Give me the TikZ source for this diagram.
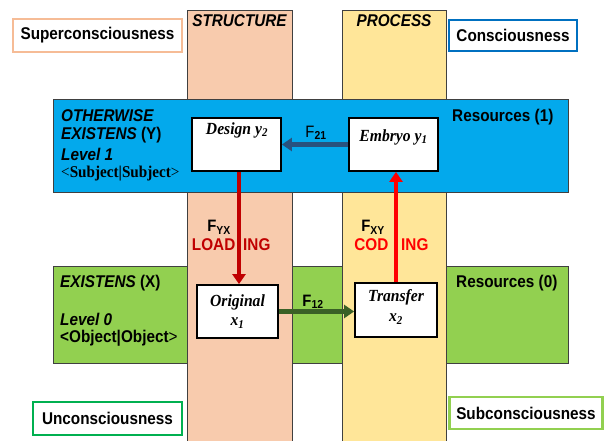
\documentclass[tikz,border=0pt]{standalone}
\usepackage{fontspec}
\setmainfont{Liberation Serif}[FakeStretch=0.92]
\setsansfont{Liberation Sans}[FakeStretch=0.9]
\usetikzlibrary{arrows.meta}

\definecolor{peach}{HTML}{F8CBAD}
\definecolor{sand}{HTML}{FFE699}
\definecolor{skyband}{HTML}{03A9EC}
\definecolor{grassband}{HTML}{92D050}
\definecolor{edgegray}{HTML}{404040}
\definecolor{superedge}{HTML}{F6BC96}
\definecolor{consedge}{HTML}{0070C0}
\definecolor{unconsedge}{HTML}{00B050}
\definecolor{subconsedge}{HTML}{92D050}
\definecolor{linkblue}{HTML}{28527E}
\definecolor{linkgreen}{HTML}{3A6126}
\definecolor{loadred}{HTML}{C00000}
\definecolor{codred}{HTML}{FF0000}

\tikzset{
  bandedge/.style={draw=edgegray, line width=1pt},
  statebox/.style={draw=black, fill=white, line width=1.8pt, inner sep=0pt},
  tagbox/.style={fill=white, line width=2.6pt, inner sep=0pt,
    font=\sffamily\bfseries\fontsize{17}{20}\selectfont},
  sanslabel/.style={inner sep=0pt, anchor=west,
    font=\sffamily\bfseries\fontsize{17}{20}\selectfont},
  boxtext/.style={inner sep=0pt, font=\bfseries\itshape\fontsize{17}{20}\selectfont},
  flowlabel/.style={inner sep=0pt, font=\sffamily\fontsize{16.5}{20}\selectfont},
  flowword/.style={inner sep=0pt, text height=12pt, text depth=0pt,
    font=\sffamily\bfseries\fontsize{17}{20}\selectfont},
  flowarrow/.style={line width=4.4pt, -{Triangle[width=13pt,length=10pt]}},
}

\begin{document}
\begin{tikzpicture}[x=1pt,y=-1pt]
\useasboundingbox (0,0) rectangle (605,441);

% level 0 band (behind the columns)
\filldraw[bandedge, fill=grassband] (53,266) rectangle (568,363);

% structure and process columns, open at the bottom
\fill[peach] (187,11) rectangle (292,441);
\draw[bandedge] (187,441) -- (187,11) -- (292,11) -- (292,441);
\fill[sand] (342,11) rectangle (446,441);
\draw[bandedge] (342,441) -- (342,11) -- (446,11) -- (446,441);
\node[inner sep=0pt, font=\sffamily\bfseries\itshape\fontsize{17}{20}\selectfont]
  (structure) at (239.5,21) {STRUCTURE};
\node[inner sep=0pt, font=\sffamily\bfseries\itshape\fontsize{17}{20}\selectfont]
  (process) at (394,21) {PROCESS};

% level 1 band (in front of the columns)
\filldraw[bandedge, fill=skyband] (53,100) rectangle (568,192);

% corner tags
\node[tagbox, draw=superedge, minimum width=169pt, minimum height=33pt]
  (supercons) at (97.5,35.5) {Superconsciousness};
\node[tagbox, draw=consedge, minimum width=128pt, minimum height=31pt]
  (cons) at (513,35.5) {Consciousness};
\node[tagbox, draw=unconsedge, minimum width=149pt, minimum height=33pt]
  (uncons) at (107.5,418.5) {Unconsciousness};
\node[tagbox, draw=subconsedge, minimum width=153pt, minimum height=32pt]
  (subcons) at (526,413) {Subconsciousness};

% level texts
\node[sanslabel] (otherwise) at (61,116) {\itshape OTHERWISE};
\node[sanslabel] (existensy) at (61,135) {{\itshape EXISTENS} (Y)};
\node[sanslabel] (levelone) at (61,154) {\itshape Level 1};
\node[sanslabel, font=\rmfamily\bfseries\fontsize{16.5}{20}\selectfont]
  (subjsubj) at (61,174) {{\mdseries <}Subject|Subject{\mdseries >}};
\node[sanslabel] (resone) at (452,117) {Resources (1)};

\node[sanslabel] (existensx) at (60,283) {{\itshape EXISTENS} (X)};
\node[sanslabel] (levelzero) at (60,319) {\itshape Level 0};
\node[sanslabel] (objobj) at (60,338) {<Object|Object{\mdseries >}};
\node[sanslabel] (reszero) at (456,283) {Resources (0)};

% state boxes
\node[statebox, minimum width=89pt, minimum height=53pt] (design) at (236.5,144.5) {};
\node[statebox, minimum width=89pt, minimum height=53pt] (embryo) at (393.5,144.5) {};
\node[statebox, minimum width=81pt, minimum height=53pt] (original) at (237.5,311.5) {};
\node[statebox, minimum width=82pt, minimum height=54pt] (transfer) at (396,310) {};

\node[boxtext] (designtxt) at (237,130) {Design y\textsubscript{2}};
\node[boxtext] (embryotxt) at (393.5,137) {Embryo y\textsubscript{\itshape 1}};
\node[boxtext] (origtxt) at (237.5,302) {Original};
\node[boxtext] (origx) at (237.5,323) {x\textsubscript{1}};
\node[boxtext] (transtxt) at (396,297) {Transfer};
\node[boxtext] (transx) at (396,319) {x\textsubscript{2}};

% flows between the boxes
\coordinate (loadx) at (239,0);
\draw[flowarrow, linkblue] (embryo.west) -- (design.east);
\draw[flowarrow, loadred] (design.south -| loadx) -- (original.north -| loadx);
\draw[flowarrow, codred] (transfer.north) -- (transfer.north |- embryo.south);
\draw[flowarrow, linkgreen] (original.east) -- (original.east -| transfer.west);

% flow labels
\node[flowlabel] (f21) at (316,133) {F\textsubscript{\bfseries 21}};
\node[flowlabel] (f12) at (313,302) {\bfseries F\textsubscript{12}};
\node[flowlabel, font=\sffamily\bfseries\fontsize{16.5}{20}\selectfont] (fyx) at (219,227.5) {F\textsubscript{YX}};
\node[flowlabel, font=\sffamily\bfseries\fontsize{16.5}{20}\selectfont] (fxy) at (373,227.5) {F\textsubscript{XY}};
\node[flowword, anchor=east, text=loadred] (load) at (235.5,244.5) {LOAD};
\node[flowword, anchor=west, text=loadred] (loading) at (243,244.5) {ING};
\node[flowword, anchor=east, text=codred] (cod) at (388.5,244.5) {COD};
\node[flowword, anchor=west, text=codred] (coding) at (401,244.5) {ING};
\end{tikzpicture}
\end{document}
